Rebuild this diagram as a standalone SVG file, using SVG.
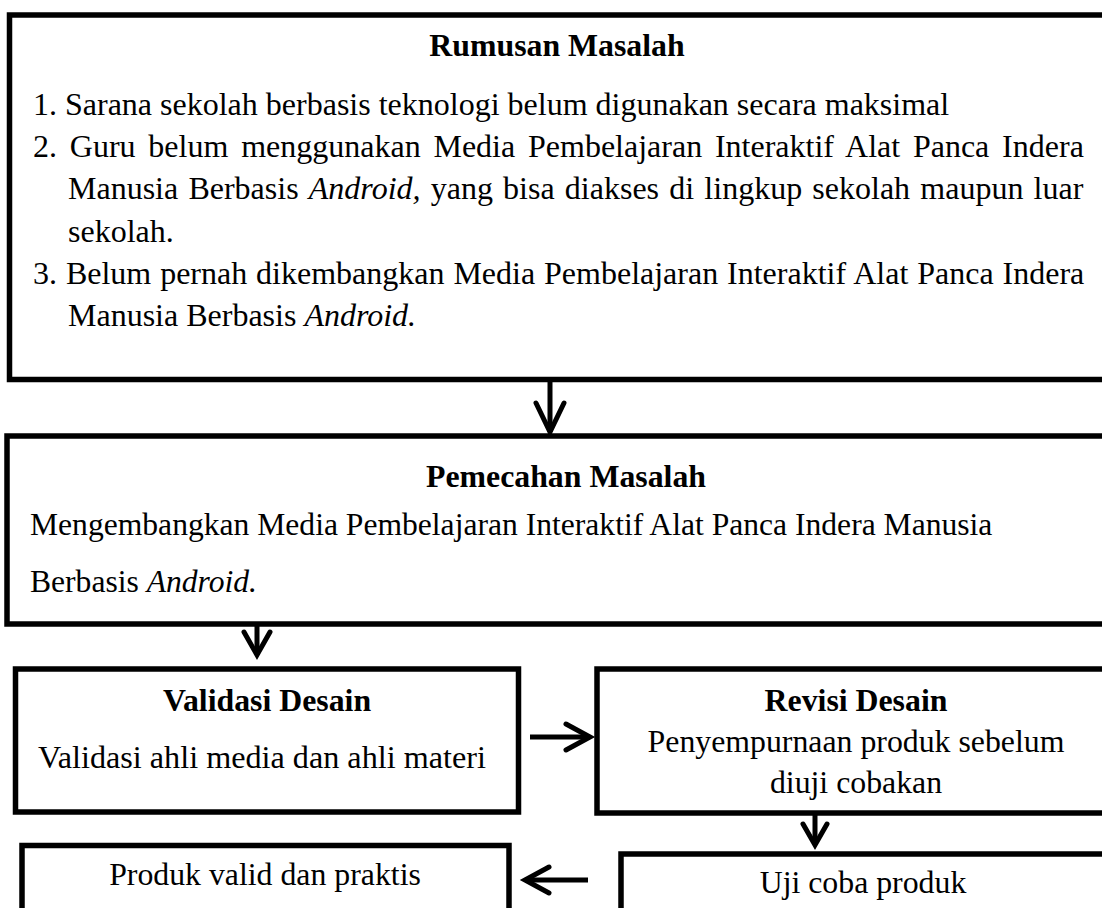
<svg xmlns="http://www.w3.org/2000/svg" width="1102" height="908" viewBox="0 0 1102 908">
<style>
.box{fill:#fff;stroke:#000;stroke-width:5.5}
.t{font-family:"Liberation Serif","Times New Roman",serif;font-size:31.8px;fill:#000}
.r{font-size:32px}
.b{font-weight:bold}
.c{text-anchor:middle}
.i{font-style:italic}
.con{fill:none;stroke:#000;stroke-width:5;stroke-linecap:round;stroke-linejoin:miter;stroke-miterlimit:10}
.shaft{fill:none;stroke:#000;stroke-width:5;stroke-linecap:butt}
</style>
<rect width="1102" height="908" fill="#fff"/>
<g id="rumusan">
<rect class="box" x="9.5" y="15" width="1110" height="364.5"/>
<text class="t b c" x="557" y="56">Rumusan Masalah</text>
<text class="t r" x="33" y="115">1. Sarana sekolah berbasis teknologi belum digunakan secara maksimal</text>
<text class="t r" x="33" y="157" style="word-spacing:4.8px">2. Guru belum menggunakan Media Pembelajaran Interaktif Alat Panca Indera</text>
<text class="t r" x="68" y="199" style="word-spacing:2.2px">Manusia Berbasis <tspan class="i">Android,</tspan> yang bisa diakses di lingkup sekolah maupun luar</text>
<text class="t r" x="68" y="242">sekolah.</text>
<text class="t r" x="33" y="284" style="word-spacing:0.9px">3. Belum pernah dikembangkan Media Pembelajaran Interaktif Alat Panca Indera</text>
<text class="t r" x="68" y="326">Manusia Berbasis <tspan class="i">Android.</tspan></text>
</g>
<g id="pemecahan">
<rect class="box" x="7" y="436" width="1110" height="188"/>
<text class="t b c" x="566" y="487">Pemecahan Masalah</text>
<text class="t" x="30" y="535" style="font-size:31.6px">Mengembangkan Media Pembelajaran Interaktif Alat Panca Indera Manusia</text>
<text class="t" x="30" y="592" style="font-size:31.6px">Berbasis <tspan class="i">Android.</tspan></text>
</g>
<g id="validasi">
<rect class="box" x="15.5" y="669" width="503" height="143"/>
<text class="t b c" x="267" y="711">Validasi Desain</text>
<text class="t c" x="262" y="768" style="font-size:32.2px">Validasi ahli media dan ahli materi</text>
</g>
<g id="revisi">
<rect class="box" x="597" y="669" width="520" height="144"/>
<text class="t b c" x="856" y="711">Revisi Desain</text>
<text class="t c" x="856" y="752">Penyempurnaan produk sebelum</text>
<text class="t c" x="856" y="793">diuji cobakan</text>
</g>
<g id="produk">
<rect class="box" x="22" y="845.5" width="487" height="100"/>
<text class="t c" x="265" y="885">Produk valid dan praktis</text>
</g>
<g id="uji">
<rect class="box" x="621" y="854" width="500" height="100"/>
<text class="t c" x="863" y="893">Uji coba produk</text>
</g>
<g id="connectors">
<line class="shaft" x1="550" y1="382" x2="550" y2="432"/>
<polyline class="con" points="536,403 550,432 564,403"/>
<line class="shaft" x1="257" y1="626" x2="257" y2="655"/>
<polyline class="con" points="244,632 257,655 270,632"/>
<line class="shaft" x1="530" y1="737" x2="590" y2="737"/>
<polyline class="con" points="566,724 590,737 566,750"/>
<line class="shaft" x1="588" y1="880" x2="525" y2="880"/>
<polyline class="con" points="549,867 525,880 549,893"/>
<line class="shaft" x1="815" y1="815" x2="815" y2="845"/>
<polyline class="con" points="803,824 815,845 827,824"/>
</g>
</svg>
